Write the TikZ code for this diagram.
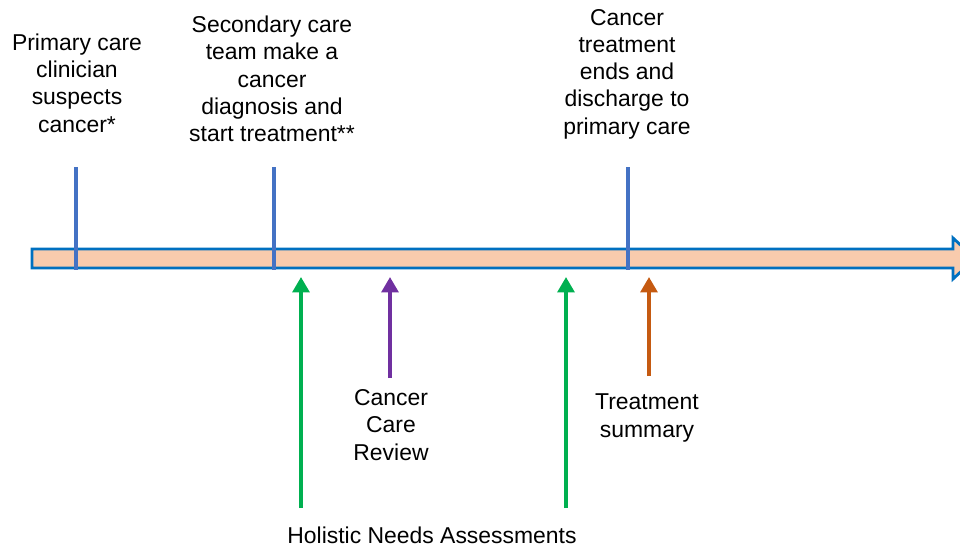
\documentclass[tikz,border=0pt]{standalone}
\usepackage{fontspec}
\setmainfont{Liberation Sans}
\usetikzlibrary{arrows.meta}
\definecolor{barfill}{RGB}{248,203,173}
\definecolor{barline}{RGB}{0,112,192}
\definecolor{tickblue}{RGB}{68,114,196}
\definecolor{hnagreen}{RGB}{0,176,80}
\definecolor{ccrpurple}{RGB}{112,48,160}
\definecolor{tsorange}{RGB}{197,90,17}
\tikzset{
  label/.style={align=center, inner sep=0pt, font=\fontsize{16.3}{19.4}\selectfont},
  tick/.style={tickblue, line width=2.8pt},
  upArrow/.style={line width=2.6pt, -{Triangle[width=12pt,length=11pt]}}
}

\begin{document}
\begin{tikzpicture}[x=0.025cm, y=-0.025cm]
\useasboundingbox (0,0) rectangle (960,546);
% timeline bar
\filldraw[fill=barfill, draw=barline, line width=2pt, line join=miter]
  (32,249) -- (953,249) -- (953,238) -- (975,258.5) -- (953,279) -- (953,268) -- (32,268) -- cycle;
% events above the line
\node[label] (primary) at (77,83) {Primary care\\clinician\\suspects\\cancer*};
\node[label] (secondary) at (272,79) {Secondary care\\team make a\\cancer\\diagnosis and\\start treatment**};
\node[label] (ends) at (627,74) {Cancer\\treatment\\ends and\\discharge to\\primary care};
\coordinate (t1top) at (76,167); \coordinate (t1bot) at (76,270);
\coordinate (t2top) at (274,167); \coordinate (t2bot) at (274,270);
\coordinate (t3top) at (628,167); \coordinate (t3bot) at (628,270);
\draw[tick] (t1top) -- (t1bot);
\draw[tick] (t2top) -- (t2bot);
\draw[tick] (t3top) -- (t3bot);
% events below the line
\node[label] (review) at (391,425) {Cancer\\Care\\Review};
\node[label] (summary) at (647,418) {Treatment\\summary};
\node[label] (hna) at (432,535) {Holistic Needs Assessments};
\coordinate (hnaA) at (301,508); \coordinate (hnaAtip) at (301,277);
\coordinate (hnaB) at (566,508); \coordinate (hnaBtip) at (566,277);
\coordinate (ccr) at (390,378); \coordinate (ccrtip) at (390,277);
\coordinate (ts) at (649,376); \coordinate (tstip) at (649,277);
\draw[upArrow, hnagreen] (hnaA) -- (hnaAtip);
\draw[upArrow, hnagreen] (hnaB) -- (hnaBtip);
\draw[upArrow, ccrpurple] (ccr) -- (ccrtip);
\draw[upArrow, tsorange] (ts) -- (tstip);
\end{tikzpicture}
\end{document}
